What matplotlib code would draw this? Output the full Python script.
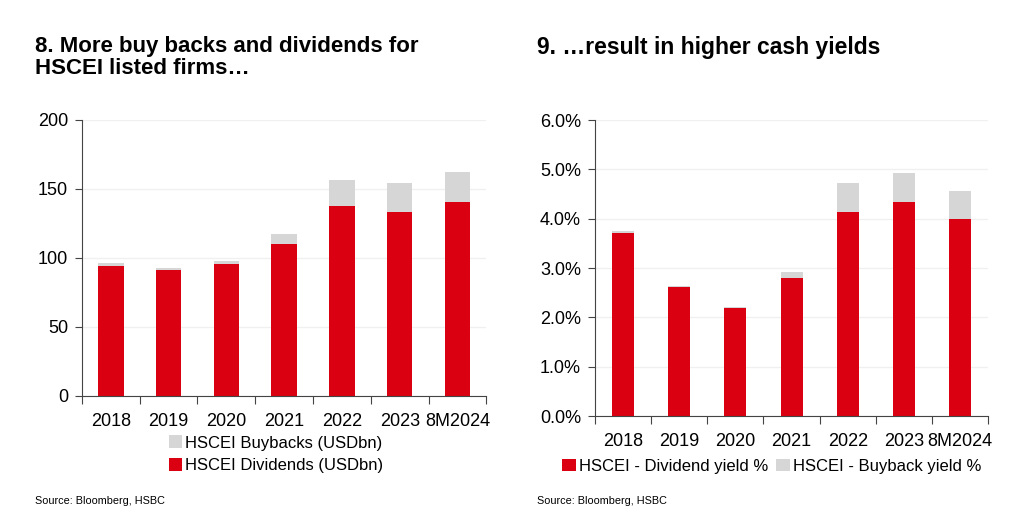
import matplotlib
matplotlib.use("Agg")
import matplotlib.pyplot as plt
import numpy as np
from matplotlib.ticker import PercentFormatter

plt.rcParams["font.family"] = ["Liberation Sans Narrow", "Liberation Sans", "DejaVu Sans"]

years = ["2018", "2019", "2020", "2021", "2022", "2023", "8M2024"]

# chart 8: USDbn
dividends = [94.2, 91.1, 95.4, 110.4, 137.5, 133.4, 140.4]
buybacks = [1.8, 1.9, 2.2, 6.6, 19.0, 20.5, 21.9]

# chart 9: yield %
div_yield = [3.72, 2.61, 2.20, 2.80, 4.14, 4.33, 3.99]
bb_yield = [0.03, 0.03, 0.02, 0.12, 0.58, 0.59, 0.58]

red = "#DB0011"
grey = "#D6D6D6"

fig = plt.figure(figsize=(10.24, 5.21), dpi=100)
x = np.arange(len(years))


def style(ax):
    ax.set_xlim(-0.5, len(years) - 0.5)
    ax.set_xticks(np.arange(len(years) + 1) - 0.5)
    ax.set_xticklabels([])
    ax.set_xticks(x, minor=True)
    ax.set_xticklabels(years, minor=True, fontsize=13)
    ax.tick_params(axis="x", which="minor", length=0, pad=12)
    ax.tick_params(axis="x", which="major", length=6, color="#444444")
    ax.tick_params(axis="y", length=5, labelsize=13, color="#444444", pad=5)
    for s in ["top", "right"]:
        ax.spines[s].set_visible(False)
    for s in ["left", "bottom"]:
        ax.spines[s].set_color("#444444")
    ax.grid(axis="y", color="#F0F0F0", linewidth=1)
    ax.set_axisbelow(True)


# left chart
ax1 = fig.add_axes([0.080, 0.240, 0.395, 0.530])
ax1.bar(x, dividends, width=0.44, color=red, label="HSCEI Dividends (USDbn)")
ax1.bar(x, buybacks, width=0.44, bottom=dividends, color=grey, label="HSCEI Buybacks (USDbn)")
ax1.set_ylim(0, 200)
ax1.set_yticks([0, 50, 100, 150, 200])
style(ax1)
h, l = ax1.get_legend_handles_labels()
ax1.legend(h[::-1], l[::-1], loc="upper center", bbox_to_anchor=(0.48, -0.113),
           frameon=False, fontsize=12, handlelength=0.8, handleheight=0.8,
           handletextpad=0.2, labelspacing=0.45, borderpad=0)

# right chart
ax2 = fig.add_axes([0.581, 0.2015, 0.384, 0.568])
ax2.bar(x, div_yield, width=0.39, color=red, label="HSCEI - Dividend yield %")
ax2.bar(x, bb_yield, width=0.39, bottom=div_yield, color=grey, label="HSCEI - Buyback yield %")
ax2.set_ylim(0, 6)
ax2.set_yticks(np.arange(0, 7, 1))
ax2.yaxis.set_major_formatter(PercentFormatter(decimals=1))
style(ax2)
ax2.legend(loc="upper center", bbox_to_anchor=(0.45, -0.116), ncol=2,
           frameon=False, fontsize=12, handlelength=0.8, handleheight=0.8,
           handletextpad=0.2, columnspacing=0.5, borderpad=0)

# titles and sources
fig.text(0.034, 0.93, "8. More buy backs and dividends for\nHSCEI listed firms\u2026",
         fontsize=16, fontweight="bold", va="top", linespacing=1.05)
fig.text(0.524, 0.93, "9. \u2026result in higher cash yields",
         fontsize=16.5, fontweight="bold", va="top")
fig.text(0.034, 0.038, "Source: Bloomberg, HSBC", fontsize=7.8, va="center")
fig.text(0.524, 0.038, "Source: Bloomberg, HSBC", fontsize=7.8, va="center")

fig.savefig("out.png", dpi=100)
